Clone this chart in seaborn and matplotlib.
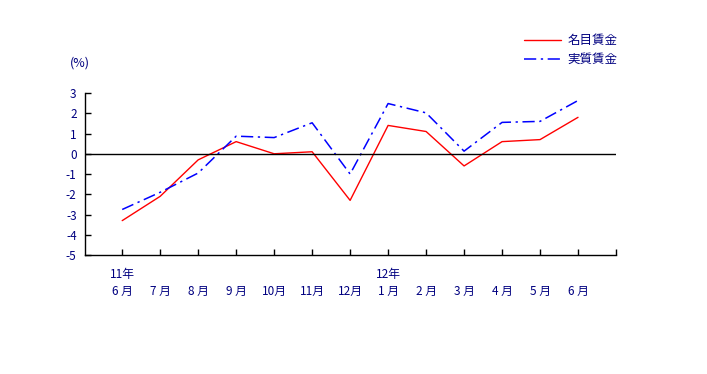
import numpy as np
import pandas as pd
import matplotlib.pyplot as plt
import seaborn as sns

# Data
months = ['6 月', '7 月', '8 月', '9 月', '10月', '11月', '12月',
          '1 月', '2 月', '3 月', '4 月', '5 月', '6 月']
year_marks = {0: '11年', 7: '12年'}
nominal = [-3.3, -2.1, -0.3, 0.6, 0.0, 0.1, -2.3, 1.4, 1.1, -0.6, 0.6, 0.7, 1.8]
real = [-2.75, -1.9, -0.95, 0.87, 0.8, 1.53, -1.0, 2.48, 2.02, 0.13, 1.55, 1.6, 2.63]
series_names = ['名目賃金', '実質賃金']

sns.set_theme(style='white')
plt.rcParams['font.family'] = ['Noto Sans CJK JP', 'DejaVu Sans']

pos = np.arange(1, len(months) + 1)
df = pd.DataFrame({
    'x': np.concatenate([pos, pos]),
    'value': nominal + real,
    'series': [series_names[0]] * len(pos) + [series_names[1]] * len(pos),
})

navy = '#000080'
fig = plt.figure(figsize=(7.07, 3.74), dpi=100)
ax = fig.add_axes([0.1202, 0.318, 0.7511, 0.4333])

sns.lineplot(data=df[df['series'] == series_names[0]], x='x', y='value',
             color='red', lw=1, ax=ax, label=series_names[0])
sns.lineplot(data=df[df['series'] == series_names[1]], x='x', y='value',
             color='blue', lw=1.1, ax=ax, label=series_names[1],
             dashes=False, linestyle=(0, (8, 3, 1.5, 3)))

ax.axhline(0, color='black', lw=1)
ax.set_xlim(0.02, 14)
ax.set_ylim(-5, 3)
ax.set_yticks(range(-5, 4))
ax.set_yticklabels([str(v) for v in range(-5, 4)], color=navy, fontsize=8.5)
ax.set_xticks(list(pos) + [14])
labels = []
for i, m in enumerate(months):
    labels.append(year_marks.get(i, '') + '\n' + m)
ax.set_xticklabels(labels + [''], color=navy, fontsize=8.5, linespacing=1.45)
ax.tick_params(axis='both', direction='in', length=4, width=1, color='black',
               left=True, bottom=True, pad=6)
ax.tick_params(axis='x', pad=9)
ax.set_xlabel('')
ax.set_ylabel('')
for s in ['top', 'right']:
    ax.spines[s].set_visible(False)
for s in ['left', 'bottom']:
    ax.spines[s].set_color('black')
    ax.spines[s].set_linewidth(1)

fig.text(0.099, 0.822, '(%)', color=navy, fontsize=9, ha='left')

ax.legend_.remove()
handles, lbls = ax.get_legend_handles_labels()
leg = fig.legend(handles, lbls, loc='upper left', bbox_to_anchor=(0.732, 0.925),
                 frameon=False, fontsize=9, handlelength=3.0, handletextpad=0.5,
                 labelspacing=0.45, borderpad=0)
for t in leg.get_texts():
    t.set_color(navy)

fig.savefig('out.png', dpi=100)
